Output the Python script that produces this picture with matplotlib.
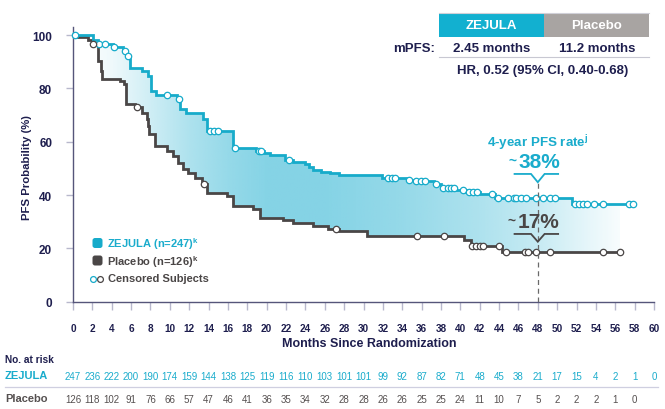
import numpy as np
import matplotlib
matplotlib.use("Agg")
import matplotlib.pyplot as plt
from matplotlib.patches import Rectangle, FancyBboxPatch
from matplotlib.lines import Line2D
from matplotlib.colors import to_rgb
import matplotlib.transforms as mtransforms

plt.rcParams['font.family'] = ['Liberation Sans', 'DejaVu Sans']

# ---------------- data ----------------
zej_t = [0, 2.1, 2.6, 4.1, 5.2, 5.5, 5.9, 7.1, 7.7, 8.1, 8.6, 10.7, 11.0, 11.7, 13.4, 13.8,
         16.5, 18.9, 19.7, 20.3, 21.9, 22.7, 24.0, 24.4, 24.8, 25.6, 26.5, 27.5, 31.9,
         34.5, 35.2, 37.3, 38.0, 39.5, 40.6, 42.0, 43.6, 51.5, 57.8]
zej_s = [100, 98.2, 96.6, 95.4, 94.1, 92.2, 87.8, 86.6, 84.7, 79.1, 77.4, 75.9, 72.2, 70.7, 68.4, 64.0,
         57.8, 56.6, 55.6, 54.9, 53.2, 52.4, 51.8, 50.4, 49.4, 48.7, 48.1, 47.6, 46.4,
         45.6, 45.2, 44.0, 42.8, 41.9, 41.1, 40.2, 39.0, 36.5, 36.5]
zej_cens = [0.2, 2.7, 3.3, 4.2, 5.4, 5.7, 9.7, 10.9, 14.1, 14.6, 15.0, 16.7, 19.2, 19.4, 22.3,
            32.5, 32.9, 33.3, 34.7, 35.4, 35.9, 36.3, 37.5, 38.2, 38.7, 39.0, 39.3, 40.3,
            40.9, 41.3, 41.7, 43.3, 43.9, 44.9, 45.5, 45.8, 46.3, 46.8, 47.8, 48.5, 49.3, 49.8,
            51.8, 52.3, 52.7, 53.1, 53.8, 54.7, 57.4, 57.8]

pla_t = [0, 0.3, 1.6, 1.95, 2.6, 2.9, 3.0, 4.9, 5.3, 5.5, 6.4, 7.1, 7.6, 7.75, 7.9, 8.45, 9.7,
         10.3, 10.8, 11.4, 11.9, 12.6, 13.3, 13.8, 15.9, 16.5, 18.6, 19.3, 21.7, 22.7, 24.8,
         26.3, 27.5, 30.4, 40.4, 41.1, 44.3, 56.5]
pla_s = [100, 99.2, 98.0, 96.6, 90.3, 86.6, 83.5, 82.6, 81.5, 74.1, 72.9, 70.9, 68.6, 65.9, 62.8, 58.4, 56.5,
         54.6, 52.1, 49.6, 48.4, 46.5, 44.0, 40.6, 39.7, 35.8, 34.9, 31.5, 30.8, 29.6, 28.3,
         27.3, 26.4, 24.8, 23.3, 20.8, 18.7, 18.7]
pla_cens = [2.1, 6.6, 13.5, 27.2, 35.5, 38.3, 41.2, 41.6, 42.0, 42.3, 44.0, 44.7, 46.7, 47.0,
            47.8, 49.3, 54.7, 56.5]

months_ticks = list(range(0, 61, 2))
zej_risk = [247, 236, 222, 200, 190, 174, 159, 144, 138, 125, 119, 116, 110, 103, 101, 101,
            99, 92, 87, 82, 71, 48, 45, 38, 21, 17, 15, 4, 2, 1, 0]
pla_risk = [126, 118, 102, 91, 76, 66, 57, 47, 46, 41, 36, 35, 34, 32, 28, 28, 26, 26, 25, 25,
            24, 11, 10, 7, 5, 2, 2, 2, 1, 0]

rate_month = 48
zej_rate_label = "38%"
pla_rate_label = "17%"

# ---------------- style ----------------
TEAL = '#17abca'
TEAL_TXT = '#1aaccc'
NAVY = '#1e1e4e'
DARK = '#4a4646'
GRAYBOX = '#a8a4a2'
SPINE = '#55557a'
W, H = 665, 410

fig = plt.figure(figsize=(W / 100, H / 100), dpi=100)
ax = fig.add_axes([73 / W, (H - 302.7) / H, 581 / W, (302.7 - 28) / H])
PX = fig.dpi_scale_trans  # inches == px/100

def pxy(x, y):
    return x / 100.0, (H - y) / 100.0

def stepval(t_arr, s_arr, t):
    t_arr = np.asarray(t_arr); s_arr = np.asarray(s_arr)
    idx = np.searchsorted(t_arr, t, side='right') - 1
    return s_arr[np.clip(idx, 0, len(s_arr) - 1)]

# ---------------- gradient fill between curves ----------------
grid = np.union1d(np.array(zej_t), np.array(pla_t))
grid = grid[grid <= pla_t[-1]]
hi = stepval(zej_t, zej_s, grid)
lo = stepval(pla_t, pla_s, grid)
poly = ax.fill_between(grid, lo, hi, step='post', facecolor='none', edgecolor='none')
path = poly.get_paths()[0]

gx = np.linspace(0, 58, 400)
alpha = np.interp(gx, [0, 4, 8, 12, 16, 20, 26, 34, 42, 48, 52, 56, 58],
                  [0.0, 0.1, 0.3, 0.5, 0.65, 0.75, 0.75, 0.65, 0.5, 0.35, 0.2, 0.06, 0.0])
base = np.array(to_rgb('#5cc5dd'))
img = np.zeros((1, len(gx), 4))
img[0, :, :3] = base
img[0, :, 3] = alpha
im = ax.imshow(img, extent=[0, 58, 0, 100], aspect='auto', origin='lower', zorder=1,
               interpolation='bilinear')
im.set_clip_path(path, transform=ax.transData)

# ---------------- curves ----------------
ax.plot(zej_t, zej_s, drawstyle='steps-post', color=TEAL, lw=2.0, zorder=4, clip_on=False,
        solid_joinstyle='miter')
ax.plot(pla_t, pla_s, drawstyle='steps-post', color=DARK, lw=2.0, zorder=3, clip_on=False,
        solid_joinstyle='miter')
ax.plot(zej_cens, stepval(zej_t, zej_s, np.array(zej_cens)), 'o', ms=4.6, mfc='white',
        mec=TEAL, mew=0.9, zorder=5, clip_on=False)
ax.plot(pla_cens, stepval(pla_t, pla_s, np.array(pla_cens)), 'o', ms=4.6, mfc='white',
        mec=DARK, mew=0.9, zorder=5, clip_on=False)

# ---------------- axes ----------------
ax.set_xlim(0, 60)
ax.set_ylim(0, 103)
for s in ['top', 'right']:
    ax.spines[s].set_visible(False)
for s in ['left', 'bottom']:
    ax.spines[s].set_color(SPINE)
    ax.spines[s].set_linewidth(1.0)
ax.set_yticks([0, 20, 40, 60, 80, 100])
ax.set_xticks(months_ticks)
ax.tick_params(axis='y', direction='out', length=5, width=1, color='#b8b8cc', pad=10,
               labelsize=8.5, labelcolor=NAVY)
ax.tick_params(axis='x', direction='out', length=6, width=1, color='#b8b8cc', pad=9,
               labelsize=7.2, labelcolor=NAVY)
for lab in ax.get_xticklabels() + ax.get_yticklabels():
    lab.set_fontweight('bold')
ax.set_ylabel('PFS Probability (%)', fontsize=8.2, fontweight='bold', color=NAVY)
ax.yaxis.set_label_coords(-0.071, 0.5 - (167.5 - (28 + 302.7) / 2) / (302.7 - 28))
fig.text(369.5 / W, 1 - 344 / H, 'Months Since Randomization', ha='center', va='center',
         fontsize=9, fontweight='bold', color=NAVY)

# ---------------- 4-year annotation ----------------
ax.plot([rate_month, rate_month], [0, 44.8], ls=(0, (4, 3)), color='#6a6a6a', lw=0.9, zorder=6)
ax.text(rate_month, 59.9, '4-year PFS rate$^{\\mathregular{j}}$', ha='center', va='center',
        fontsize=9.6, fontweight='bold', color=TEAL_TXT, zorder=7)
ax.text(rate_month + 0.2, 52.4, zej_rate_label, ha='center', va='center', fontsize=15,
        fontweight='bold', color=TEAL_TXT, zorder=7)
ax.text(rate_month - 2.25, 53.2, '~', ha='right', va='center', fontsize=10,
        fontweight='bold', color=TEAL_TXT, zorder=7)
ax.plot([45.6, 47.3, 48.0, 48.7, 50.1], [47.9, 47.9, 44.8, 47.9, 47.9], color=TEAL_TXT, lw=1.3,
        zorder=7, solid_joinstyle='miter')
ax.text(rate_month + 0.1, 30.1, pla_rate_label, ha='center', va='center', fontsize=15,
        fontweight='bold', color=DARK, zorder=7)
ax.text(rate_month - 2.35, 30.9, '~', ha='right', va='center', fontsize=10,
        fontweight='bold', color=DARK, zorder=7)
ax.plot([45.6, 47.3, 48.0, 48.7, 50.1], [25.4, 25.4, 22.5, 25.4, 25.4], color=DARK, lw=1.3,
        zorder=7, solid_joinstyle='miter')

# ---------------- top table ----------------
x0, y0 = pxy(439, 38)
fig.patches.append(Rectangle((x0, y0), 1.05, 0.24, transform=PX, facecolor='#12b0d0',
                             edgecolor='none', figure=fig))
x1, _ = pxy(544, 38)
fig.patches.append(Rectangle((x1, y0), 1.05, 0.24, transform=PX, facecolor=GRAYBOX,
                             edgecolor='none', figure=fig))
fig.lines.append(Line2D([4.39, 6.49], [(H - 14) / 100] * 2, transform=PX, color='#d0d0d8',
                        lw=0.8, figure=fig))
fig.text(491.5 / W, 1 - 26 / H, 'ZEJULA', ha='center', va='center', fontsize=9.5,
         fontweight='bold', color='white')
fig.text(596.5 / W, 1 - 26 / H, 'Placebo', ha='center', va='center', fontsize=9.5,
         fontweight='bold', color='white')
fig.text(435 / W, 1 - 48.5 / H, 'mPFS:', ha='right', va='center', fontsize=9.5,
         fontweight='bold', color=NAVY)
fig.text(492 / W, 1 - 48.5 / H, '2.45 months', ha='center', va='center', fontsize=9.5,
         fontweight='bold', color=NAVY)
fig.text(597 / W, 1 - 48.5 / H, '11.2 months', ha='center', va='center', fontsize=9.5,
         fontweight='bold', color=NAVY)
fig.lines.append(Line2D([4.39, 6.49], [(H - 58) / 100] * 2, transform=PX, color='#c8c8d2',
                        lw=0.8, figure=fig))
fig.text(543 / W, 1 - 71 / H, 'HR, 0.52 (95% CI, 0.40-0.68)', ha='center', va='center',
         fontsize=9.5, fontweight='bold', color=NAVY)

# ---------------- legend ----------------
bx, by = pxy(92.5, 249)
fig.patches.append(FancyBboxPatch((bx + 0.015, by + 0.015), 0.07, 0.07,
                                  boxstyle='round,pad=0.015,rounding_size=0.025',
                                  transform=PX, facecolor=TEAL, edgecolor='none', figure=fig))
bx, by = pxy(92.5, 266.5)
fig.patches.append(FancyBboxPatch((bx + 0.015, by + 0.015), 0.07, 0.07,
                                  boxstyle='round,pad=0.015,rounding_size=0.025',
                                  transform=PX, facecolor=DARK, edgecolor='none', figure=fig))
fig.text(107 / W, 1 - 244.5 / H, 'ZEJULA (n=247)$^{\\mathregular{k}}$', ha='left', va='center',
         fontsize=8, fontweight='bold', color=TEAL_TXT)
fig.text(107 / W, 1 - 262 / H, 'Placebo (n=126)$^{\\mathregular{k}}$', ha='left', va='center',
         fontsize=8, fontweight='bold', color=DARK)
fig.lines.append(Line2D([0.93], [(H - 279.5) / 100], transform=PX, marker='o', ms=4.2,
                        mfc='white', mec=TEAL, mew=0.9, ls='none', figure=fig))
fig.lines.append(Line2D([0.995], [(H - 279.5) / 100], transform=PX, marker='o', ms=4.2,
                        mfc='white', mec=DARK, mew=0.9, ls='none', figure=fig))
fig.text(108 / W, 1 - 279.5 / H, 'Censored Subjects', ha='left', va='center',
         fontsize=8, fontweight='bold', color=DARK)

# ---------------- risk table ----------------
blend = mtransforms.blended_transform_factory(ax.transData, fig.transFigure)
fig.text(5 / W, 1 - 360 / H, 'No. at risk', ha='left', va='center', fontsize=7.3,
         fontweight='bold', color=NAVY)
fig.text(5 / W, 1 - 376.5 / H, 'ZEJULA', ha='left', va='center', fontsize=8,
         fontweight='bold', color=TEAL_TXT)
fig.text(5 / W, 1 - 399.5 / H, 'Placebo', ha='left', va='center', fontsize=8,
         fontweight='bold', color='#555050')
for m, n in zip(months_ticks, zej_risk):
    ax.text(m, 1 - 377 / H, str(n), transform=blend, ha='center', va='center', fontsize=7,
            color=TEAL_TXT, clip_on=False)
for m, n in zip(months_ticks, pla_risk):
    ax.text(m, 1 - 400 / H, str(n), transform=blend, ha='center', va='center', fontsize=7,
            color='#555050', clip_on=False)
fig.lines.append(Line2D([0.05, 6.58], [(H - 388) / 100] * 2, transform=PX, color='#cfcfe0',
                        lw=0.9, figure=fig))

fig.savefig('out.png', dpi=100)
